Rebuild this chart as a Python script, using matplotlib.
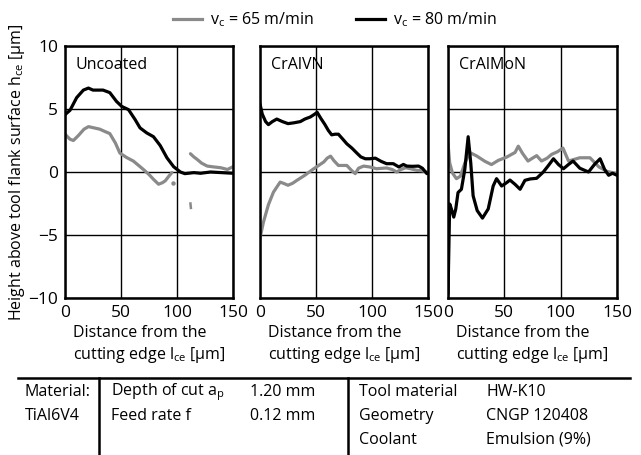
#! /usr/bin/env python3
# Height above tool flank surface vs. distance from cutting edge, three coatings

import numpy as np
import matplotlib
matplotlib.use("Agg")
import matplotlib.pyplot as plt
from matplotlib.lines import Line2D

### Data ######################################################################
nan = np.nan

unc_x_65 = [0, 4.5, 7.5, 12, 17, 21, 26, 31, 36, 40, 45, 49, 55, 61, 66, 70, 75, 79,
            83.5, 87, 89.5, 93, 95.4, nan, 112, 115, 118, 122, 127, 133, 139, 145, 150]
unc_y_65 = [3.0, 2.6, 2.5, 2.9, 3.4, 3.6, 3.5, 3.4, 3.2, 3.05, 2.3, 1.5, 1.15, 0.87, 0.5,
            0.2, -0.2, -0.58, -0.97, -0.85, -0.7, -0.3, -0.05, nan, 1.45, 1.2, 1.0, 0.7,
            0.47, 0.4, 0.34, 0.2, 0.42]
unc_dots_x = [96.5, 112, 112.4]
unc_dots_y = [-0.9, -2.5, -2.85]

unc_x_80 = [0, 4.5, 10.4, 16.4, 20.9, 25, 34, 40, 46, 50.7, 56.7, 62.6, 67, 73, 79, 85,
            91, 97, 103, 107, 115, 121, 130, 140, 150]
unc_y_80 = [4.55, 4.9, 5.9, 6.5, 6.66, 6.5, 6.5, 6.3, 5.6, 5.2, 4.95, 4.16, 3.5, 3.1, 2.8,
            2.1, 1.13, 0.42, 0.0, -0.13, -0.05, -0.1, 0.0, -0.05, -0.1]

vn_x_65 = [0, 3, 7.5, 12, 18, 21, 25, 29, 33, 40, 48, 57, 60, 63, 66, 70, 77.5, 82, 85,
           88, 92.5, 98, 104, 113, 118, 122, 126, 130, 135, 140, 145, 150]
vn_y_65 = [-5.26, -4.0, -2.6, -1.6, -0.8, -0.9, -1.05, -0.9, -0.66, -0.26, 0.26, 0.8, 1.1,
           1.26, 0.9, 0.52, 0.52, 0.1, -0.13, 0.3, 0.47, 0.4, 0.26, 0.32, 0.2, 0.0, 0.2,
           0.34, 0.25, 0.13, 0.1, -0.05]

vn_x_80 = [0, 2, 5, 7.5, 11, 15, 20, 25, 30, 36, 40, 45, 49, 51, 54, 58, 61, 64, 67, 70,
           74, 77.5, 82, 86.5, 90, 94, 98, 103, 108, 113, 119, 124, 128, 131, 136, 141.6,
           145, 149, 150]
vn_y_80 = [5.4, 4.6, 4.0, 3.76, 4.0, 4.2, 4.0, 3.84, 3.9, 4.0, 4.2, 4.37, 4.6, 4.74, 4.3,
           3.76, 3.3, 2.95, 3.0, 3.0, 2.6, 2.24, 1.9, 1.5, 1.2, 1.05, 1.05, 1.1, 0.85, 0.66,
           0.66, 0.4, 0.6, 0.47, 0.45, 0.47, 0.3, -0.13, -0.1]

mo_x_65 = [0, 1.5, 3.9, 7.5, 11, 15, 19.3, 25.3, 32.7, 38.6, 44.6, 52, 59.5, 62.4, 66, 71,
           75, 78.7, 83, 88, 92, 97, 102, 107, 112, 117, 126, 134, 141, 150]
mo_y_65 = [2.28, 0.72, -0.07, -0.53, -0.33, 0.72, 1.55, 1.28, 0.85, 0.59, 0.92, 1.18, 1.55,
           2.05, 1.5, 0.87, 1.1, 1.3, 0.87, 1.1, 1.4, 1.6, 1.9, 0.87, 1.0, 1.13, 1.13, 0.4,
           0.05, -0.13]

mo_x_80 = [0, 1.5, 3.0, 5.1, 6.9, 8.9, 11.9, 14.9, 17.9, 20.2, 22.3, 25.9, 30.6, 35.7, 40.1,
           43.1, 47.6, 52, 55, 59.5, 64, 68.3, 73, 78.7, 84.6, 89, 93.6, 98, 102.5, 107, 111,
           117, 124.7, 130, 135, 139, 142.6, 146, 150]
mo_y_80 = [-9.7, -2.54, -2.93, -3.58, -2.93, -1.63, -1.37, 0.2, 2.8, 0.72, -1.89, -3.06,
           -3.66, -2.93, -1.11, -0.53, -1.11, -0.85, -0.64, -0.98, -1.37, -0.66, -0.55, -0.5,
           0.0, 0.5, 1.05, 0.6, 0.26, 0.6, 0.87, 0.3, 0.0, 0.6, 1.05, 0.2, -0.26, -0.1, -0.26]

panels = ["Uncoated", "CrAlVN", "CrAlMoN"]
series = [(unc_x_65, unc_y_65, unc_x_80, unc_y_80),
          (vn_x_65, vn_y_65, vn_x_80, vn_y_80),
          (mo_x_65, mo_y_65, mo_x_80, mo_y_80)]
xticks = [0, 50, 100, 150]
yticks = [-10, -5, 0, 5, 10]

table_left = [("Material:", "Depth of cut a$_\\mathregular{p}$", "1.20 mm"),
              ("TiAl6V4", "Feed rate f", "0.12 mm")]
table_right = [("Tool material", "HW-K10"),
               ("Geometry", "CNGP 120408"),
               ("Coolant", "Emulsion (9%)")]

### Figure setup ##############################################################
plt.rcParams['font.family'] = ['Open Sans', 'DejaVu Sans']
plt.rcParams['font.size'] = 11.5

W, H = 641, 455
fig = plt.figure(figsize=(W / 100, H / 100), dpi=100)

def px(x, y):
    return x / W, 1 - y / H

gray = "#8a8a8a"
axes_px = [(65, 233), (260, 428), (448, 617)]
top, bot = 46, 298

for i, (name, (x65, y65, x80, y80)) in enumerate(zip(panels, series)):
    l, r = axes_px[i]
    ax = fig.add_axes([l / W, 1 - bot / H, (r - l) / W, (bot - top) / H])
    ax.plot(x65, y65, color=gray, lw=2.3, solid_capstyle='round')
    ax.plot(x80, y80, color="black", lw=2.3, solid_capstyle='round')
    if i == 0:
        ax.plot(unc_dots_x[:1], unc_dots_y[:1], 'o', color=gray, ms=2.2)
        ax.plot(unc_dots_x[1:], unc_dots_y[1:], color=gray, lw=1.8)
    ax.set_xlim(0, 150)
    ax.set_ylim(-10, 10)
    ax.set_xticks(xticks)
    ax.set_yticks(yticks)
    ax.grid(True, color="black", lw=1.0)
    ax.set_axisbelow(True)
    ax.tick_params(length=0, pad=5, labelsize=12.5)
    if i > 0:
        ax.set_yticklabels([])
    for s in ax.spines.values():
        s.set_linewidth(1.8)
    ax.text(0.065, 0.955, name, transform=ax.transAxes, va='top', ha='left')
    ax.set_xlabel("Distance from the\ncutting edge l$_\\mathregular{ce}$ [µm]",
                  multialignment='left', labelpad=3, linespacing=1.25)

fig.text(*px(17, 172), "Height above tool flank surface h$_\\mathregular{ce}$ [µm]",
         rotation=90, ha='center', va='center')

### Legend ####################################################################
h65 = Line2D([], [], color=gray, lw=2.3)
h80 = Line2D([], [], color="black", lw=2.3)
fig.legend([h65, h80], ["v$_\\mathregular{c}$ = 65 m/min", "v$_\\mathregular{c}$ = 80 m/min"],
           loc='center', bbox_to_anchor=px(335, 20), ncol=2, frameon=False,
           handlelength=1.8, handletextpad=0.55, columnspacing=2.6)

### Table below ###############################################################
def fig_line(x0, y0, x1, y1):
    a, b = px(x0, y0)
    c, d = px(x1, y1)
    fig.add_artist(Line2D([a, c], [b, d], color="black", lw=1.8, transform=fig.transFigure))

fig_line(18, 378, 630, 378)
fig_line(99, 378, 99, 455)
fig_line(348, 378, 348, 455)

rows_y = [392, 416, 440]
for j, (c1, c2, c3) in enumerate(table_left):
    fig.text(*px(25, rows_y[j]), c1, va='center')
    fig.text(*px(111, rows_y[j]), c2, va='center')
    fig.text(*px(250, rows_y[j]), c3, va='center')
for j, (c1, c2) in enumerate(table_right):
    fig.text(*px(359, rows_y[j]), c1, va='center')
    fig.text(*px(486, rows_y[j]), c2, va='center')

fig.savefig("out.png", dpi=100)
